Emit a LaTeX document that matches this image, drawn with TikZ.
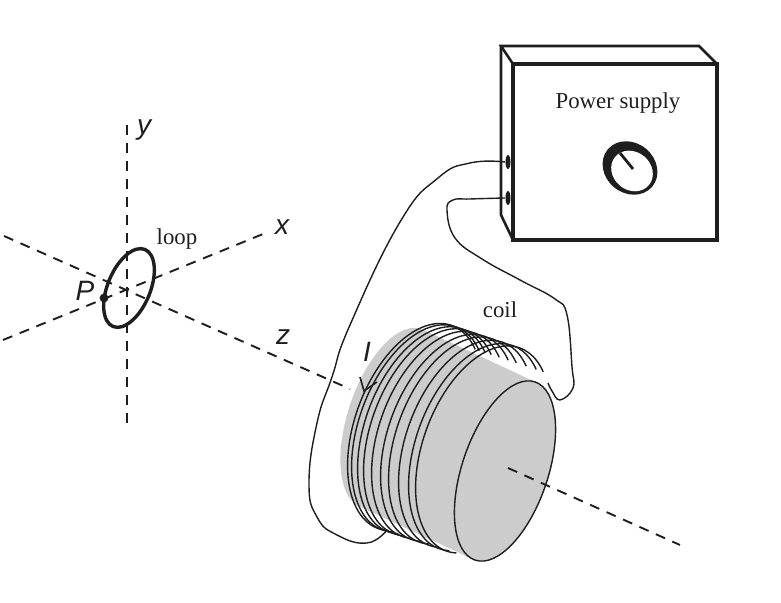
\documentclass[tikz,border=0pt]{standalone}
\usepackage{fontspec}
\setmainfont{Liberation Serif}
\setsansfont{Liberation Sans}
\usetikzlibrary{shapes.geometric}
\definecolor{coilgray}{RGB}{204, 204, 204}
\definecolor{ink}{RGB}{30, 30, 30}
\def\rxcap{43}
\def\rycap{94}
\def\rxturn{60}
\def\ryturn{108}
\tikzset{
  axis/.style={ink, line width=0.95pt, dash pattern=on 5pt off 4pt},
  wire/.style={ink, line width=0.7pt},
  socket/.style={ellipse, fill=ink, inner sep=0pt, minimum width=2.5pt, minimum height=7pt},
  serifl/.style={font=\fontsize{11.4}{13}\selectfont, text=ink, inner sep=0pt},
  axisl/.style={font=\fontsize{14}{16}\selectfont\sffamily\itshape, text=ink, inner sep=0pt}
}

\begin{document}
\begin{tikzpicture}[x=0.5pt, y=0.5pt, line cap=butt]
  \useasboundingbox (0, 0) rectangle (781, 603);

  % coil body
  \begin{scope}[shift={(505, 132)}, rotate=-18.6]
    \fill[coilgray] (87:43 and 94)
    arc[start angle=87, end angle=-93, x radius=\rxcap, y radius=\rycap] --
    ([shift={(-125, 13.9)}]-93:43 and 94)
    arc[start angle=-93, end angle=-273, x radius=\rxcap, y radius=\rycap] -- cycle;
  \end{scope}

  % turns
  \foreach \s in {0,4,10,16,24,33,41,51,61,68} {
    \begin{scope}[shift={(415+\s, 176-0.33*\s)}, rotate=-20]
      \draw[wire] (280:60 and 108)
      arc[start angle=280, end angle=60, x radius=\rxturn, y radius=\ryturn];
    \end{scope}
  }

  % end of the coil
  \draw[wire, fill=coilgray] (505, 132) circle[x radius=\rxcap, y radius=\rycap, rotate=-18.6];

  % axes
  \draw[axis] (127, 478) -- (127, 178);
  \draw[axis] (3, 263) -- (268, 371);
  \draw[axis] (4, 367) -- (350, 214);
  \draw[axis] (508, 135) -- (680, 58);

  % loop
  \draw[ink, line width=1.7pt] (129, 315) circle[x radius=21.3, y radius=41.7, rotate=-22.5];
  \fill[ink] (104, 305) circle[radius=4.4];

  % arrow on the coil
  \draw[ink, line width=0.8pt] (360, 226) -- (364, 212) -- (377, 221);

  % power supply
  \draw[ink, line width=1.3pt] (513, 539) -- (501, 557) -- (699, 557) -- (717, 539);
  \draw[ink, line width=1.3pt] (501, 557) -- (501, 388) -- (513, 363);
  \draw[ink, line width=1.7pt] (513, 363) rectangle (717, 539);

  % knob
  \fill[ink] (630, 435) circle[x radius=29, y radius=25, rotate=-40];
  \fill[white] (632, 432) circle[x radius=22, y radius=19, rotate=-40];
  \draw[ink, line width=1.4pt] (620, 450) -- (633, 434);

  \node[socket] (upper) at (508, 441) {};
  \node[socket] (lower) at (508, 405) {};

  % leads
  \draw[wire] plot[smooth, tension=0.8] coordinates {(upper.west) (470, 440) (438, 425) (400, 381)
    (350, 278) (332, 226) (317, 180) (309, 120) (317, 86) (337, 68) (367, 60) (387, 73)};
  \draw[wire] plot[smooth, tension=0.7] coordinates {(lower.west) (470, 404) (453, 403) (447, 393)
    (455, 365) (482, 344) (520, 323) (555, 304) (567, 288) (572, 236) (573, 215) (560, 203) (552, 212) (548, 220)};

  \node[axisl] (ylabel) at (144, 473) {y};
  \node[axisl] (xlabel) at (282, 376) {x};
  \node[axisl] (zlabel) at (283, 266) {z};
  \node[axisl] (plabel) at (85, 312) {P};
  \node[axisl] (ilabel) at (367, 251) {I};
  \node[serifl] (loop) at (177, 364) {loop};
  \node[serifl] (coil) at (500, 293) {coil};
  \node[serifl] (supply) at (618, 500) {Power supply};
\end{tikzpicture}
\end{document}
